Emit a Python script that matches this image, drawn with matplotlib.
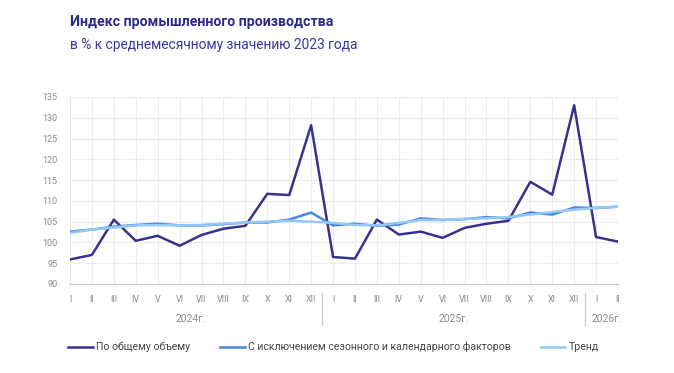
import numpy as np
import matplotlib
matplotlib.use("Agg")
import matplotlib.pyplot as plt

plt.rcParams['font.family'] = ['Roboto', 'DejaVu Sans']

months = ["I", "II", "III", "IV", "V", "VI", "VII", "VIII", "IX", "X", "XI", "XII"]
tickLabels = months + months + ["I", "II"]
years = ["2024г.", "2025г.", "2026г."]

totalVolume = [95.9, 97.0, 105.5, 100.4, 101.6, 99.2, 101.8, 103.3, 104.0, 111.7, 111.4, 128.2,
               96.5, 96.1, 105.5, 101.9, 102.6, 101.1, 103.5, 104.5, 105.2, 114.6, 111.5, 133.0,
               101.3, 100.2]
seasonAdjusted = [102.6, 103.1, 103.8, 104.2, 104.5, 104.1, 104.1, 104.4, 104.8, 104.8, 105.5, 107.2,
                  104.1, 104.5, 104.0, 104.3, 105.8, 105.4, 105.6, 106.1, 105.8, 107.2, 106.7, 108.4,
                  108.3, 108.6]
trend = [102.3, 103.1, 103.6, 104.1, 104.2, 104.1, 104.2, 104.5, 104.8, 105.0, 105.2, 105.0,
         104.7, 104.2, 104.1, 104.7, 105.4, 105.4, 105.7, 105.8, 106.1, 106.7, 107.3, 107.9,
         108.3, 108.6]

x = np.arange(len(totalVolume))

fig = plt.figure(figsize=(6.74, 3.73), dpi=100)
ax = fig.add_axes([70 / 674, 1 - 284 / 373, 548 / 674, 187 / 373])

darkColor = "#38328f"
midColor = "#4a87d9"
lightColor = "#93c8f7"

ax.plot(x, totalVolume, color=darkColor, lw=1.8, label="По общему объему", zorder=3)
ax.plot(x, seasonAdjusted, color=midColor, lw=1.8, label="С исключением сезонного и календарного факторов", zorder=4)
ax.plot(x, trend, color=lightColor, lw=1.8, label="Тренд", zorder=5)

ax.set_xlim(0, len(x) - 1)
ax.set_ylim(90, 135)
ax.set_yticks(np.arange(90, 136, 5))
ax.set_xticks(x)
ax.set_xticklabels(tickLabels)
ax.grid(True, color="#ececec", lw=0.8)
ax.set_axisbelow(True)
for s in ["top", "right"]:
    ax.spines[s].set_visible(False)
ax.spines["left"].set_color("#e4e4e4")
ax.spines["bottom"].set_color("#c8c8c8")
ax.tick_params(axis="both", length=0, labelsize=6.5, colors="#8a8a8a")
ax.tick_params(axis="x", pad=8)
ax.tick_params(axis="y", pad=9)

# year labels and separators
trans = ax.get_xaxis_transform()
yearCenters = [5.5, 17.5, 24.5]
for xc, yr in zip(yearCenters, years):
    ax.text(xc, -0.185, yr, transform=trans, ha="center", va="center", fontsize=7.5, color="#8a8a8a")
for sep in [11.5, 23.5]:
    ax.plot([sep, sep], [-0.05, -0.22], transform=trans, color="#cfcfcf", lw=1, clip_on=False)

fig.text(70 / 674, 1 - 22 / 373, "Индекс промышленного производства", fontsize=10.2, fontweight="bold",
         color="#2e2b86", va="center")
fig.text(70 / 674, 1 - 45 / 373, "в % к среднемесячному значению 2023 года", fontsize=9.9,
         color="#3b379c", va="center")

leg = fig.legend(loc="center", bbox_to_anchor=(333.5 / 674, 1 - 347 / 373), ncol=3, frameon=False,
                 fontsize=7.6, handlelength=2.3, handletextpad=0.3, columnspacing=2.9)
for t in leg.get_texts():
    t.set_color("#444444")

fig.savefig("out.png", dpi=100, facecolor="white")
